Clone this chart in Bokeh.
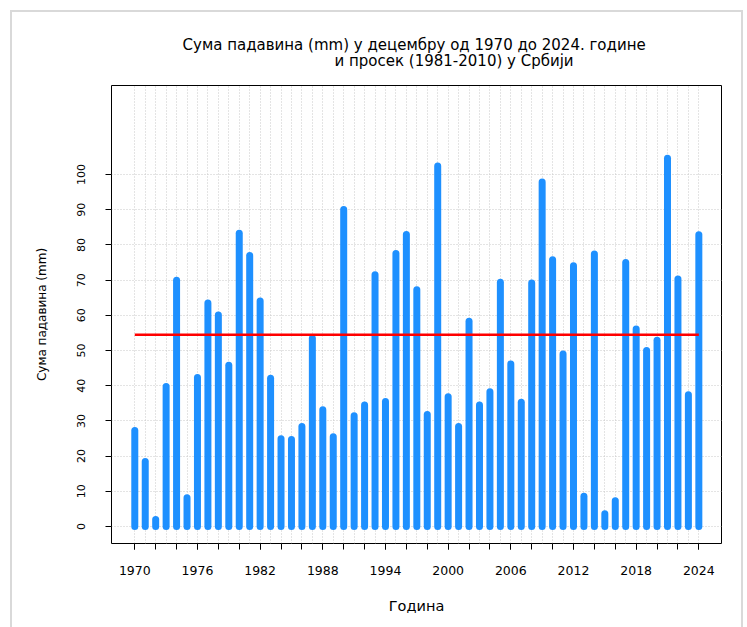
from bokeh.plotting import figure
from bokeh.models import FixedTicker, Range1d, Title, ColumnDataSource
from bokeh.embed import file_html
from bokeh.resources import INLINE

# ---------------- data ----------------
years = list(range(1970, 2025))
precip = [27.3, 18.5, 2.0, 39.8, 70.0, 8.2, 42.3, 63.5, 60.1, 45.8,
          83.3, 77.0, 64.1, 42.1, 24.9, 24.7, 28.4, 53.5, 33.2, 25.5,
          90.1, 31.5, 34.5, 71.5, 35.5, 77.6, 83.0, 67.3, 31.8, 102.4,
          36.9, 28.4, 58.3, 34.5, 38.3, 69.4, 46.2, 35.3, 69.2, 97.9,
          75.8, 49.0, 74.1, 8.6, 77.4, 3.6, 7.3, 75.0, 56.1, 50.0,
          52.9, 104.6, 70.3, 37.4, 82.9]
avg_1981_2010 = 54.5

x_tick_years = [1970, 1976, 1982, 1988, 1994, 2000, 2006, 2012, 2018, 2024]
x_tick_labels = ["1970", "1976", "1982", "1988", "1994", "2000", "2006", "2012", "2018", "2024"]
x_minor_ticks = list(range(1970, 2025, 2))
y_tick_values = [0, 10, 20, 30, 40, 50, 60, 70, 80, 90, 100]
y_tick_labels = ["0", "10", "20", "30", "40", "50", "60", "70", "80", "90", "100"]

title_line1 = "Сума падавина (mm)  у децембру од 1970 до 2024. године"
title_line2 = "и просек (1981-2010) у Србији"
x_title = "Година"
y_title = "Сума падавина (mm)"

# ---------------- layout (page pixels) ----------------
W, H = 747, 627
FL, FR, FT, FB = 111, 721, 85, 543          # plot frame in page px
X0, X1 = 1967.77, 2026.17
Y0, Y1 = -4.83, 125.3
FONT = "DejaVu Sans"
FRAME_GRAY = "#d9d9d9"

# light outer frame of the picture (left, top, right edges), drawn as page background
outer_frame_css = (
    f"linear-gradient({FRAME_GRAY},{FRAME_GRAY}) 10px 10px / 2px 100% no-repeat, "
    f"linear-gradient({FRAME_GRAY},{FRAME_GRAY}) 10px 10px / 733px 2px no-repeat, "
    f"linear-gradient({FRAME_GRAY},{FRAME_GRAY}) 741px 10px / 2px 100% no-repeat, "
    "white"
)

p = figure(width=W, height=H, output_backend="svg", toolbar_location=None,
           x_range=Range1d(X0, X1), y_range=Range1d(Y0, Y1),
           min_border_left=FL, min_border_right=W - FR,
           min_border_top=FT, min_border_bottom=H - FB,
           styles={"background": outer_frame_css})

p.background_fill_color = "white"
p.border_fill_color = None
p.outline_line_color = "black"
p.outline_line_width = 1

# grids
p.xgrid.ticker = FixedTicker(ticks=years)
p.ygrid.ticker = FixedTicker(ticks=y_tick_values)
for g in (p.xgrid, p.ygrid):
    g.grid_line_color = "#c8c8c8"
    g.grid_line_dash = "1 2"
    g.grid_line_width = 1

# x axis
xa = p.xaxis[0]
xa.ticker = FixedTicker(ticks=x_tick_years, minor_ticks=x_minor_ticks)
xa.major_label_overrides = {y: s for y, s in zip(x_tick_years, x_tick_labels)}
xa.axis_line_color = None
xa.major_tick_in = 0
xa.major_tick_out = 6
xa.minor_tick_in = 0
xa.minor_tick_out = 6
xa.major_tick_line_color = "black"
xa.minor_tick_line_color = "black"
xa.major_label_standoff = 16
xa.major_label_text_font = FONT
xa.major_label_text_font_size = "12.5px"
xa.major_label_text_color = "black"
xa.axis_label = x_title
xa.axis_label_standoff = 20
xa.axis_label_text_font = FONT
xa.axis_label_text_font_size = "14.5px"
xa.axis_label_text_font_style = "normal"
xa.axis_label_text_color = "black"

# y axis
ya = p.yaxis[0]
ya.ticker = FixedTicker(ticks=y_tick_values)
ya.major_label_overrides = {v: s for v, s in zip(y_tick_values, y_tick_labels)}
ya.major_label_orientation = "vertical"
ya.axis_line_color = None
ya.major_tick_in = 0
ya.major_tick_out = 6
ya.minor_tick_line_color = None
ya.major_tick_line_color = "black"
ya.major_label_standoff = 20
ya.major_label_text_font = FONT
ya.major_label_text_font_size = "11px"
ya.major_label_text_color = "black"
ya.axis_label = y_title
ya.axis_label_standoff = 26
ya.axis_label_text_font = FONT
ya.axis_label_text_font_size = "12px"
ya.axis_label_text_font_style = "normal"
ya.axis_label_text_color = "black"

# bars
src = ColumnDataSource(dict(year=years, val=precip, zero=[0] * len(years)))
p.segment(x0="year", y0="zero", x1="year", y1="val", source=src,
          line_color="#1E90FF", line_width=7, line_cap="round")

# average line
p.line(x=[years[0], years[-1]], y=[avg_1981_2010, avg_1981_2010],
       line_color="red", line_width=2.5)

# titles (two lines, second one shifted right like the original)
t2 = Title(text=title_line2, align="left", offset=334 - FL, standoff=32,
           text_font=FONT, text_font_size="15px", text_font_style="normal",
           text_color="black")
t1 = Title(text=title_line1, align="center", standoff=-41,
           text_font=FONT, text_font_size="15px", text_font_style="normal",
           text_color="black")
p.add_layout(t2, "above")
p.add_layout(t1, "above")

open("out.html", "w").write(file_html(p, INLINE))
